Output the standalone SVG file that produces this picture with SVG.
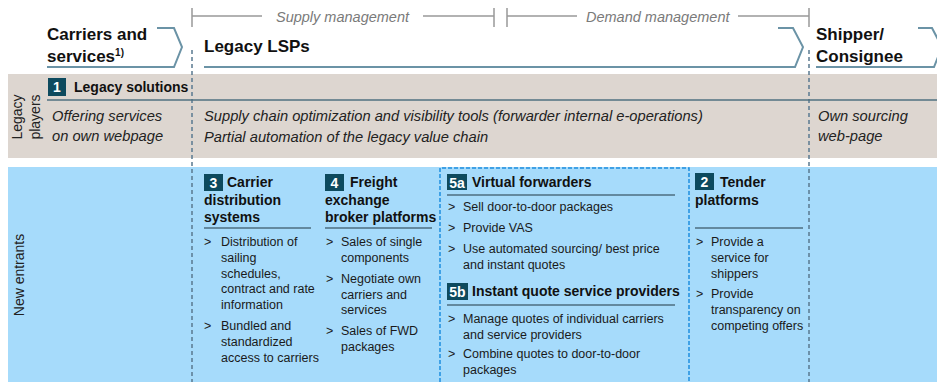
<svg xmlns="http://www.w3.org/2000/svg" width="937" height="382" viewBox="0 0 937 382">
<style>
text{font-family:"Liberation Sans",Arial,sans-serif}
.hdr{font-weight:bold;font-size:17px;fill:#111}
.brk{font-style:italic;font-size:14.5px;fill:#7a7a7a}
.gi{font-style:italic;font-size:14.7px;fill:#222}
.ttl{font-weight:bold;font-size:14px;fill:#111}
.bx{font-size:12.5px;fill:#1a1a1a}
.rot{font-size:14px;fill:#222}
.badge{fill:#0d4a5e}
.bn{font-weight:bold;font-size:14px;fill:#fff;text-anchor:middle}
.chev{fill:none;stroke:#6b93a6;stroke-width:2}
.tick{fill:none;stroke:#999;stroke-width:1.5}
.ul{stroke:#4c6e80;stroke-width:1.5}
.dsl{stroke:#5a7a90;stroke-width:1.5;stroke-dasharray:4 3}
.dbl{fill:none;stroke:#1e8ee0;stroke-width:1.5;stroke-dasharray:4 2}
</style>

<!-- bands -->
<rect x="8" y="74" width="929" height="84" fill="#ddd6d0"/>
<rect x="8" y="167" width="929" height="215" fill="#a6dbfb"/>

<g id="connectors">
  <!-- top brackets -->
  <path class="tick" d="M192,8V27M192,16H262M423,16H494M494,8V27M507,8V27M507,16H577M738,16H809M809,8V27"/>
  <!-- header chevrons -->
  <path class="chev" d="M157,28H174L182,47L174,67H47"/>
  <path class="chev" d="M778,28H793L803,47L795,67H204"/>
  <path class="chev" d="M918,28H932L942,47L934,67H816"/>
  <!-- dashed separators -->
  <line class="dsl" x1="192" y1="50" x2="192" y2="382"/>
  <line class="dsl" x1="809" y1="50" x2="809" y2="382"/>
  <line x1="47" y1="100" x2="937" y2="100" stroke="#4f7080" stroke-width="1.5"/>
  <path class="dbl" d="M440,382V168H689V382"/>
</g>

<g id="header">
  <text class="brk" x="276" y="22">Supply management</text>
  <text class="brk" x="586" y="22">Demand management</text>
  <text class="hdr" x="47" y="40">Carriers and</text>
  <text class="hdr" x="47" y="62">services<tspan font-size="10" dy="-6">1)</tspan></text>
  <text class="hdr" x="204" y="52">Legacy LSPs</text>
  <text class="hdr" x="816" y="40">Shipper/</text>
  <text class="hdr" x="816" y="62">Consignee</text>
</g>

<g id="legacy-players">
  <text class="rot" transform="translate(22,117) rotate(-90)" text-anchor="middle">Legacy</text>
  <text class="rot" transform="translate(40,117) rotate(-90)" text-anchor="middle">players</text>
  <rect class="badge" x="48" y="78" width="18" height="18"/>
  <text class="bn" x="57" y="92">1</text>
  <text class="ttl" x="74" y="92">Legacy solutions</text>
  <text class="gi" x="52" y="121">Offering services</text>
  <text class="gi" x="52" y="141">on own webpage</text>
  <text class="gi" x="204" y="121">Supply chain optimization and visibility tools (forwarder internal e-operations)</text>
  <text class="gi" x="204" y="142">Partial automation of the legacy value chain</text>
  <text class="gi" x="818" y="121">Own sourcing</text>
  <text class="gi" x="818" y="141">web-page</text>
</g>

<g id="new-entrants">
  <text class="rot" transform="translate(24,275) rotate(-90)" text-anchor="middle">New entrants</text>
</g>

<g id="node-3">
  <rect class="badge" x="204" y="174" width="19" height="17"/>
  <text class="bn" x="213.5" y="188">3</text>
  <text class="ttl" x="227" y="187">Carrier</text>
  <text class="ttl" x="204" y="205">distribution</text>
  <text class="ttl" x="204" y="222">systems</text>
  <line class="ul" x1="204" y1="228" x2="311" y2="228"/>
  <g class="bx">
    <text x="204" y="246">&gt;</text>
    <text x="221" y="246">Distribution of</text>
    <text x="221" y="262">sailing</text>
    <text x="221" y="277.5">schedules,</text>
    <text x="221" y="293">contract and rate</text>
    <text x="221" y="309">information</text>
    <text x="204" y="330">&gt;</text>
    <text x="221" y="330">Bundled and</text>
    <text x="221" y="346">standardized</text>
    <text x="221" y="362">access to carriers</text>
  </g>
</g>

<g id="node-4">
  <rect class="badge" x="325" y="174" width="19" height="17"/>
  <text class="bn" x="334.5" y="188">4</text>
  <text class="ttl" x="350" y="187">Freight</text>
  <text class="ttl" x="325" y="205">exchange</text>
  <text class="ttl" x="325" y="222">broker platforms</text>
  <line class="ul" x1="325" y1="228" x2="432" y2="228"/>
  <g class="bx">
    <text x="326" y="246">&gt;</text>
    <text x="341" y="246">Sales of single</text>
    <text x="341" y="262">components</text>
    <text x="326" y="283">&gt;</text>
    <text x="341" y="283">Negotiate own</text>
    <text x="341" y="298.5">carriers and</text>
    <text x="341" y="314">services</text>
    <text x="326" y="335">&gt;</text>
    <text x="341" y="335">Sales of FWD</text>
    <text x="341" y="351">packages</text>
  </g>
</g>

<g id="node-5a">
  <rect class="badge" x="447" y="174" width="20" height="16"/>
  <text class="bn" x="457" y="187.5">5a</text>
  <text class="ttl" x="472" y="187">Virtual forwarders</text>
  <line class="ul" x1="447" y1="195" x2="675" y2="195"/>
  <g class="bx">
    <text x="448" y="211">&gt;</text>
    <text x="463" y="211">Sell door-to-door packages</text>
    <text x="448" y="232">&gt;</text>
    <text x="463" y="232">Provide VAS</text>
    <text x="448" y="253">&gt;</text>
    <text x="463" y="253">Use automated sourcing/ best price</text>
    <text x="463" y="268.5">and instant quotes</text>
  </g>
</g>

<g id="node-5b">
  <rect class="badge" x="447" y="283" width="21" height="17"/>
  <text class="bn" x="457.5" y="297">5b</text>
  <text class="ttl" x="472" y="296">Instant quote service providers</text>
  <line class="ul" x1="447" y1="305" x2="675" y2="305"/>
  <g class="bx">
    <text x="448" y="323">&gt;</text>
    <text x="463" y="323">Manage quotes of individual carriers</text>
    <text x="463" y="338.5">and service providers</text>
    <text x="448" y="358">&gt;</text>
    <text x="463" y="358">Combine quotes to door-to-door</text>
    <text x="463" y="373.5">packages</text>
  </g>
</g>

<g id="node-2">
  <rect class="badge" x="695" y="173" width="19" height="17"/>
  <text class="bn" x="704.5" y="187">2</text>
  <text class="ttl" x="720" y="187">Tender</text>
  <text class="ttl" x="695" y="205">platforms</text>
  <line class="ul" x1="695" y1="228" x2="803" y2="228"/>
  <g class="bx">
    <text x="696" y="246">&gt;</text>
    <text x="711" y="246">Provide a</text>
    <text x="711" y="262">service for</text>
    <text x="711" y="277.5">shippers</text>
    <text x="696" y="298">&gt;</text>
    <text x="711" y="298">Provide</text>
    <text x="711" y="314">transparency on</text>
    <text x="711" y="329.5">competing offers</text>
  </g>
</g>
</svg>
